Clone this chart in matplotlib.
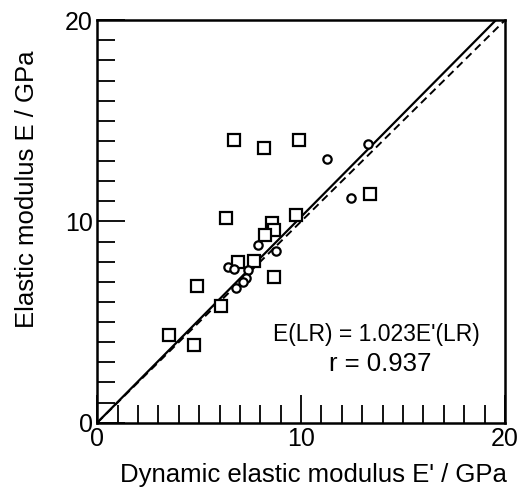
import matplotlib.pyplot as plt
from matplotlib.ticker import MultipleLocator

plt.rcParams['font.family'] = ['Liberation Sans', 'DejaVu Sans']

# square markers (E', E)
sq_x = [6.73, 8.2, 9.9, 6.32, 8.56, 8.69, 8.24, 9.75, 6.9, 7.71, 8.68, 4.92, 6.06, 3.53, 4.75, 13.38]
sq_y = [14.07, 13.66, 14.07, 10.17, 9.93, 9.55, 9.33, 10.34, 7.98, 8.03, 7.24, 6.78, 5.79, 4.36, 3.87, 11.36]

# circle markers (E', E)
ci_x = [6.44, 6.72, 7.9, 8.77, 7.42, 7.3, 7.17, 6.81, 11.29, 13.3, 12.43]
ci_y = [7.74, 7.65, 8.85, 8.53, 7.57, 7.19, 7.0, 6.67, 13.09, 13.85, 11.16]

slope = 1.023
xlim = [0, 20]

fig = plt.figure(figsize=(5.25, 4.91), dpi=100)
ax = fig.add_axes([0.185, 0.139, 0.777, 0.82])

# regression line and 1:1 line
ax.plot([0, 20 / slope], [0, 20], color='black', lw=1.6, zorder=2)
ax.plot(xlim, xlim, color='black', lw=1.4, ls=(0, (4, 2.5)), zorder=2)

ax.plot(sq_x, sq_y, ls='none', marker='s', ms=8.5, mfc='white', mec='black', mew=1.6, zorder=3)
ax.plot(ci_x, ci_y, ls='none', marker='o', ms=6, mfc='white', mec='black', mew=1.6, zorder=3)

ax.set_xlim(xlim)
ax.set_ylim(0, 20)
ax.xaxis.set_major_locator(MultipleLocator(10))
ax.yaxis.set_major_locator(MultipleLocator(10))
ax.xaxis.set_minor_locator(MultipleLocator(1))
ax.yaxis.set_minor_locator(MultipleLocator(1))
ax.tick_params(which='both', direction='in', top=False, right=False, width=1.3, labelsize=18)
ax.tick_params(which='major', length=20, pad=3)
ax.tick_params(which='minor', length=13)
for s in ax.spines.values():
    s.set_linewidth(1.8)

ax.set_xlabel("Dynamic elastic modulus E' / GPa", fontsize=18.5)
ax.set_ylabel("Elastic modulus E / GPa", fontsize=18.5)
ax.xaxis.set_label_coords(0.53, -0.1)
ax.yaxis.set_label_coords(-0.142, 0.58)

ax.text(0.684, 0.218, "E(LR) = 1.023E'(LR)", transform=ax.transAxes, ha='center', va='center', fontsize=16.5)
ax.text(0.695, 0.146, "r = 0.937", transform=ax.transAxes, ha='center', va='center', fontsize=18.5)

fig.savefig('out.png', dpi=100)
